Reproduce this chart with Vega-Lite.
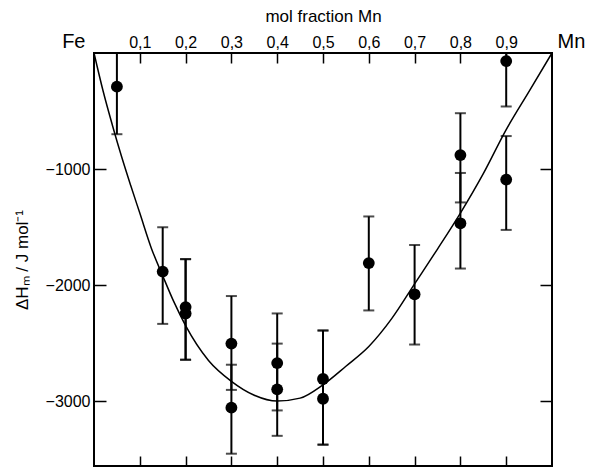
{
  "$schema": "https://vega.github.io/schema/vega-lite/v6.json",
  "width": 458,
  "height": 413,
  "autosize": "none",
  "padding": {"left": 94, "top": 53, "right": 38, "bottom": 3},
  "background": "white",
  "config": {
    "view": {"stroke": "black", "strokeWidth": 2},
    "font": "Liberation Sans",
    "axis": {"domain": false, "ticks": true, "grid": false, "tickColor": "black", "tickWidth": 1.5, "labelFont": "Liberation Sans", "titleFont": "Liberation Sans", "labelColor": "black", "titleColor": "black", "titleFontWeight": "normal"}
  },
  "datasets": {
    "obs": [
      {"x": 0.05, "y": -290, "lo": -700, "hi": 0},
      {"x": 0.15, "y": -1884, "lo": -2335, "hi": -1502},
      {"x": 0.2, "y": -2190, "lo": -2644, "hi": -1777},
      {"x": 0.2, "y": -2245, "lo": -2644, "hi": -1777},
      {"x": 0.3, "y": -2505, "lo": -2904, "hi": -2095},
      {"x": 0.3, "y": -3057, "lo": -3454, "hi": -2687},
      {"x": 0.4, "y": -2673, "lo": -3081, "hi": -2245},
      {"x": 0.4, "y": -2899, "lo": -3300, "hi": -2505},
      {"x": 0.5, "y": -2810, "lo": -3376, "hi": -2392},
      {"x": 0.5, "y": -2980, "lo": -3376, "hi": -2392},
      {"x": 0.6, "y": -1811, "lo": -2219, "hi": -1409},
      {"x": 0.7, "y": -2080, "lo": -2513, "hi": -1655},
      {"x": 0.8, "y": -880, "lo": -1288, "hi": -519},
      {"x": 0.8, "y": -1468, "lo": -1858, "hi": -1034},
      {"x": 0.9, "y": -70, "lo": -461, "hi": 0},
      {"x": 0.9, "y": -1091, "lo": -1525, "hi": -716}
    ],
    "curve": [
      {"x": 0, "dH": 0}, {"x": 0.02, "dH": -330}, {"x": 0.04, "dH": -620}, {"x": 0.06, "dH": -890},
      {"x": 0.08, "dH": -1140}, {"x": 0.1, "dH": -1380}, {"x": 0.125, "dH": -1680}, {"x": 0.15, "dH": -1920},
      {"x": 0.175, "dH": -2150}, {"x": 0.2, "dH": -2350}, {"x": 0.25, "dH": -2650}, {"x": 0.3, "dH": -2830},
      {"x": 0.35, "dH": -2950}, {"x": 0.4, "dH": -3000}, {"x": 0.45, "dH": -2975}, {"x": 0.5, "dH": -2860},
      {"x": 0.55, "dH": -2700}, {"x": 0.6, "dH": -2530}, {"x": 0.65, "dH": -2290}, {"x": 0.7, "dH": -1990},
      {"x": 0.75, "dH": -1690}, {"x": 0.8, "dH": -1380}, {"x": 0.85, "dH": -1040}, {"x": 0.9, "dH": -660},
      {"x": 0.95, "dH": -330}, {"x": 1, "dH": 0}
    ]
  },
  "layer": [
    {
      "data": {"name": "curve"},
      "mark": {"type": "line", "color": "black", "strokeWidth": 1.5, "interpolate": "monotone"},
      "encoding": {
        "x": {"field": "x", "type": "quantitative", "scale": {"domain": [0, 1], "nice": false, "zero": false},
          "axis": {
            "orient": "top",
            "offset": -10,
            "tickSize": 10,
            "values": [0, 0.1, 0.2, 0.3, 0.4, 0.5, 0.6, 0.7, 0.8, 0.9, 1],
            "labelExpr": "datum.value == 0 ? 'Fe' : datum.value == 1 ? 'Mn' : replace(format(datum.value, '.1f'), '.', ',')",
            "tickOpacity": {"condition": {"test": "datum.value == 0 || datum.value == 1", "value": 0}, "value": 1},
            "labelPadding": 6,
            "labelBaseline": "alphabetic",
            "labelFontSize": {"condition": {"test": "datum.value == 0 || datum.value == 1", "value": 20}, "value": 16},
            "labelAlign": {"condition": [{"test": "datum.value == 0", "value": "right"}, {"test": "datum.value == 1", "value": "left"}], "value": "center"},
            "labelOffset": {"condition": [{"test": "datum.value == 0", "value": -9}, {"test": "datum.value == 1", "value": 5}], "value": 0},
            "labelFlush": false, "labelOverlap": false, "labelBound": false,
            "title": "mol fraction Mn", "titleFontSize": 17, "titlePadding": 6
          }
        },
        "y": {"field": "dH", "type": "quantitative", "scale": {"domain": [-3560, 0], "nice": false, "zero": false},
          "axis": {
            "orient": "left",
            "offset": -12,
            "tickSize": 12,
            "values": [-1000, -2000, -3000],
            "format": "d",
            "labelFontSize": 16,
            "labelPadding": 4,
            "title": "ΔHₘ / J mol⁻¹",
            "titleFontSize": 17,
            "titlePadding": 14
          }
        }
      }
    },
    {
      "data": {"name": "obs"},
      "mark": {"type": "rule", "color": "black", "strokeWidth": 2},
      "encoding": {
        "x": {"field": "x", "type": "quantitative", "axis": {"orient": "bottom", "offset": -10, "tickSize": 10, "values": [0.1, 0.2, 0.3, 0.4, 0.5, 0.6, 0.7, 0.8, 0.9], "labels": false, "title": null}},
        "y": {"field": "lo", "type": "quantitative", "axis": {"orient": "right", "offset": -12, "tickSize": 12, "values": [-1000, -2000, -3000], "labels": false, "title": null}},
        "y2": {"field": "hi"}
      }
    },
    {
      "data": {"name": "obs"},
      "mark": {"type": "tick", "color": "black", "orient": "horizontal", "size": 11, "thickness": 2},
      "encoding": {
        "x": {"field": "x", "type": "quantitative", "axis": null},
        "y": {"field": "lo", "type": "quantitative", "axis": null}
      }
    },
    {
      "data": {"name": "obs"},
      "transform": [{"filter": "datum.hi < 0"}],
      "mark": {"type": "tick", "color": "black", "orient": "horizontal", "size": 11, "thickness": 2},
      "encoding": {
        "x": {"field": "x", "type": "quantitative", "axis": null},
        "y": {"field": "hi", "type": "quantitative", "axis": null}
      }
    },
    {
      "data": {"name": "obs"},
      "mark": {"type": "point", "shape": "circle", "filled": true, "color": "black", "opacity": 1, "size": 140},
      "encoding": {
        "x": {"field": "x", "type": "quantitative", "axis": null},
        "y": {"field": "y", "type": "quantitative", "axis": null}
      }
    }
  ],
  "resolve": {"axis": {"x": "independent", "y": "independent"}}
}
